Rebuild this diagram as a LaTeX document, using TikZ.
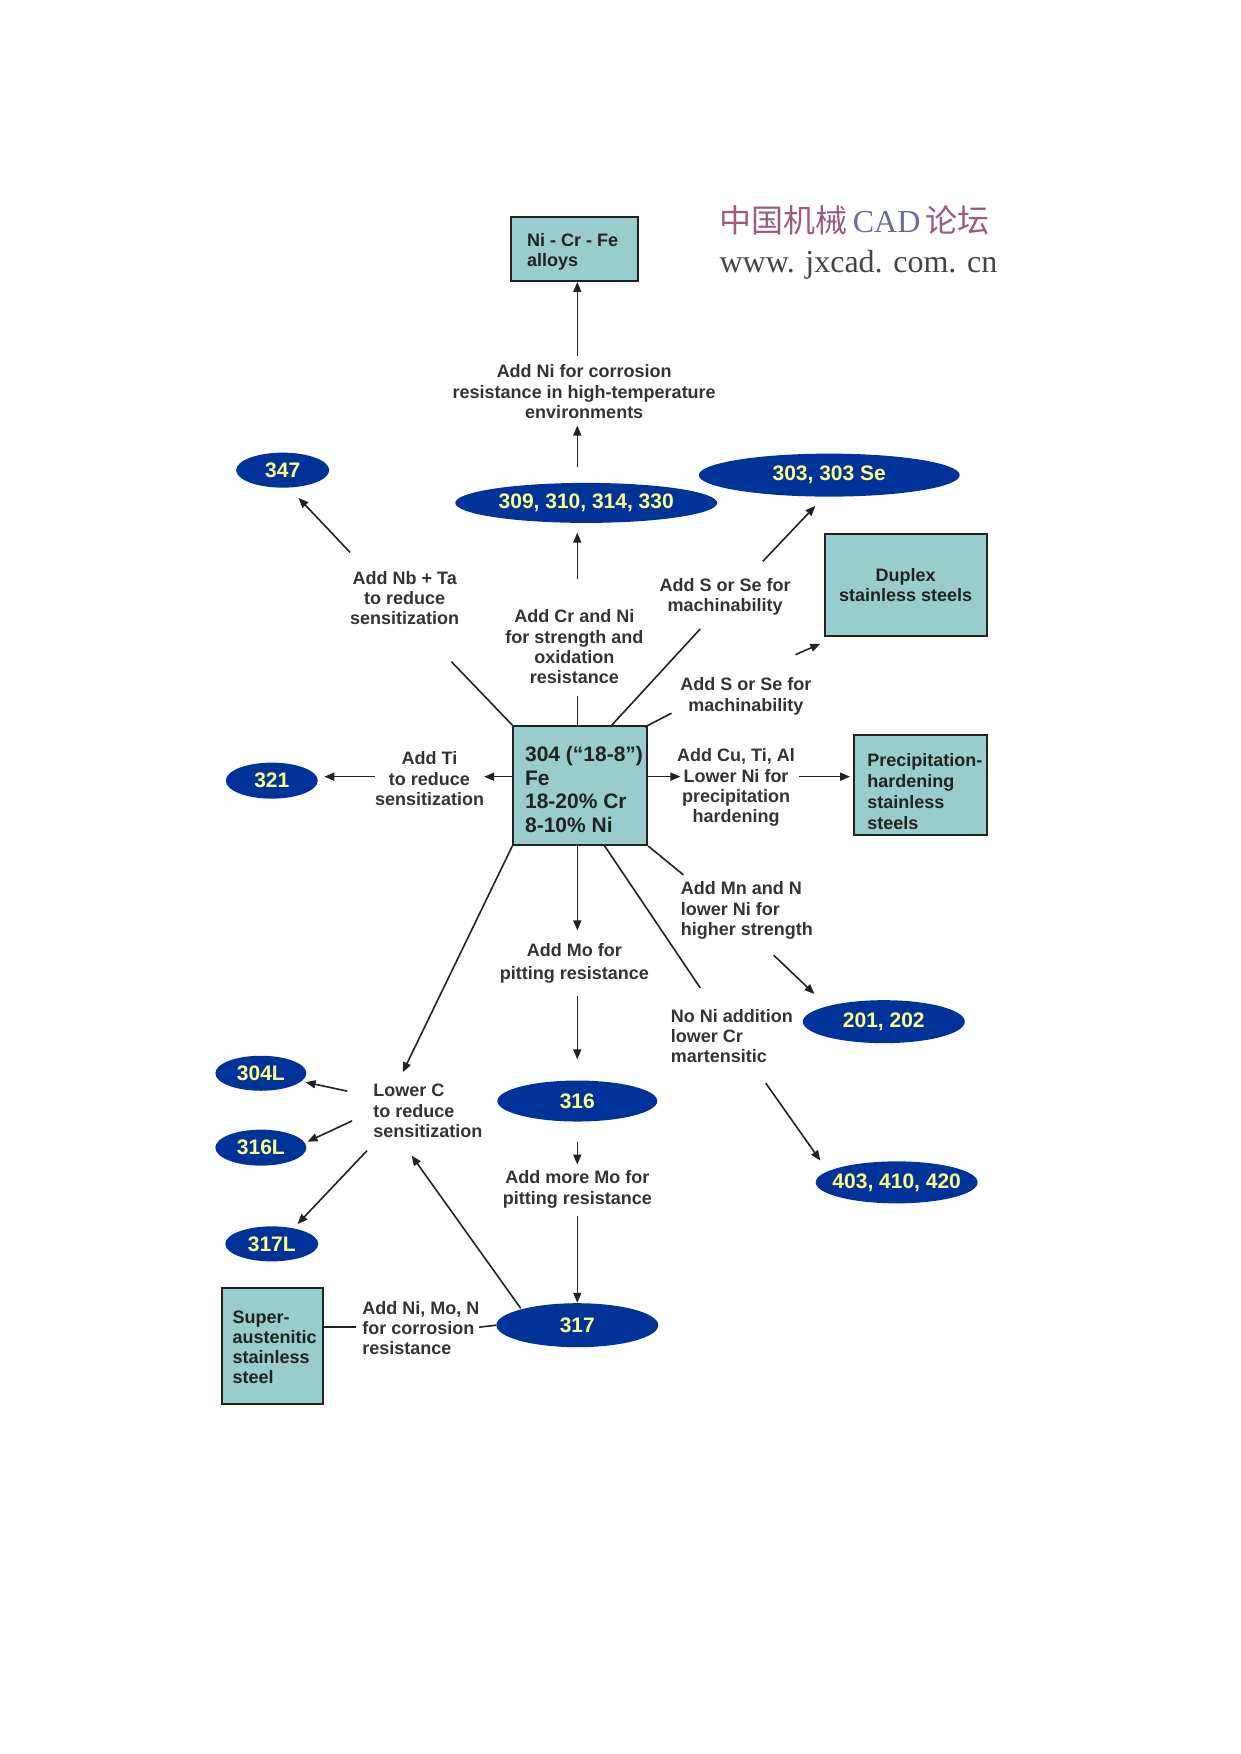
\documentclass[tikz,border=0pt]{standalone}
\usepackage{fontspec}
\setmainfont{Liberation Sans}
\newfontfamily\cjkfont{Noto Sans CJK SC}
\newfontfamily\wmserif{Liberation Serif}
\usetikzlibrary{arrows.meta,shapes.geometric}
\definecolor{boxfill}{HTML}{99CCCC}
\definecolor{ellfill}{HTML}{003399}
\definecolor{elltext}{HTML}{FFFF88}
\definecolor{lbl}{HTML}{333333}
\definecolor{edgec}{HTML}{222222}
\definecolor{wmred}{HTML}{9A5A82}
\definecolor{wmblue}{HTML}{6A6A9E}
\definecolor{wmgray}{HTML}{444444}
\newcommand\ellt[1]{\makebox[0pt][c]{#1}}
\begin{document}
\begin{tikzpicture}[x=0.496pt,y=-0.496pt,
  box/.style={draw=edgec, line width=1pt, fill=boxfill, rectangle, inner sep=0pt},
  btxt/.style={text=edgec, font=\bfseries\fontsize{9}{10.2}\selectfont, align=left, inner sep=0pt},
  ell/.style={ellipse, fill=ellfill, draw=none, text=elltext, font=\bfseries\fontsize{10.5}{12}\selectfont, inner sep=0pt},
  lab/.style={text=lbl, font=\bfseries\fontsize{9}{10.15}\selectfont, align=center, inner sep=0pt},
  labl/.style={lab, align=left, anchor=west},
  arr/.style={draw=edgec, line width=0.8pt, -{Triangle[length=5pt,width=4pt]}},
  ln/.style={draw=edgec, line width=0.8pt}]
\useasboundingbox (0,0) rectangle (1251,1768.3);

% watermark
\node[anchor=west, inner sep=0pt, font=\fontsize{16}{18}\selectfont] (wm1) at (725,222)
  {\textcolor{wmred}{\cjkfont 中国机械}\,\textcolor{wmblue}{\wmserif CAD}\,\textcolor{wmred}{\cjkfont 论坛}};
\node[anchor=west, inner sep=0pt, text=wmgray, font=\wmserif\fontsize{16}{18}\selectfont] (wm2) at (725,267)
  {www. jxcad. com. cn};

% boxes
\node[box, minimum width=63.5pt, minimum height=32pt] (niBox) at (579,251) {};
\node[btxt, anchor=west] (niT) at (531,254) {Ni - Cr - Fe\\alloys};

\node[box, minimum width=81pt, minimum height=51pt, align=center, text=edgec,
      font=\bfseries\fontsize{9}{10.2}\selectfont] (duplex) at (913,590) {Duplex\\stainless steels};

\node[box, minimum width=67pt, minimum height=59.5pt] (c304) at (585,792) {};
\node[btxt, anchor=west, font=\bfseries\fontsize{10.5}{11.85}\selectfont] (c304t) at (529,796)
  {304 (“18-8”)\\Fe\\18-20\% Cr\\8-10\% Ni};

\node[box, minimum width=66.5pt, minimum height=50pt] (precip) at (927.5,791) {};
\node[btxt, anchor=west, font=\bfseries\fontsize{9}{10.35}\selectfont] (precipT) at (874,798)
  {Precipitation-\\hardening\\stainless\\steels};

\node[box, minimum width=50.5pt, minimum height=58pt] (super) at (274.5,1357) {};
\node[btxt, anchor=west, font=\bfseries\fontsize{9}{10}\selectfont] (superT) at (234,1358)
  {Super-\\austenitic\\stainless\\steel};

% ellipses
\node[ell, minimum width=131pt, minimum height=20pt] (e309) at (591,507) {\ellt{309, 310, 314, 330}};
\node[ell, minimum width=46.5pt, minimum height=17.5pt] (e347) at (285,474) {\ellt{347}};
\node[ell, minimum width=130.5pt, minimum height=21.5pt] (e303) at (836,479) {\ellt{303, 303 Se}};
\node[ell, minimum width=46pt, minimum height=18pt] (e321) at (274,787) {\ellt{321}};
\node[ell, minimum width=81pt, minimum height=21.5pt] (e201) at (891,1030) {\ellt{201, 202}};
\node[ell, minimum width=81pt, minimum height=21pt] (e403) at (904,1192) {\ellt{403, 410, 420}};
\node[ell, minimum width=80pt, minimum height=20.5pt] (e316) at (582,1110) {\ellt{316}};
\node[ell, minimum width=81pt, minimum height=22pt] (e317) at (582,1336) {\ellt{317}};
\node[ell, minimum width=45.5pt, minimum height=17.5pt] (e304L) at (263,1082) {\ellt{304L}};
\node[ell, minimum width=45.5pt, minimum height=18pt] (e316L) at (263,1157) {\ellt{316L}};
\node[ell, minimum width=46.5pt, minimum height=17.5pt] (e317L) at (274,1254) {\ellt{317L}};

% labels
\node[lab] (lNi) at (589,395) {Add Ni for corrosion\\resistance in high-temperature\\environments};
\node[lab] (lNb) at (408,603) {Add Nb + Ta\\to reduce\\sensitization};
\node[lab] (lCr) at (579,652) {Add Cr and Ni\\for strength and\\oxidation\\resistance};
\node[lab] (lS1) at (731,602) {Add S or Se for\\machinability};
\node[lab] (lS2) at (752,702) {Add S or Se for\\machinability};
\node[lab] (lTi) at (433,785) {Add Ti\\to reduce\\sensitization};
\node[lab] (lCu) at (742,794) {Add Cu, Ti, Al\\Lower Ni for\\precipitation\\hardening};
\node[labl] (lMn) at (686,918) {Add Mn and N\\lower Ni for\\higher strength};
\node[labl] (lNoNi) at (676,1044.5) {No Ni addition\\lower Cr\\martensitic};
\node[lab, font=\bfseries\fontsize{9}{11.5}\selectfont] (lMo) at (579,971) {Add Mo for\\pitting resistance};
\node[lab] (lMo2) at (582,1199) {Add more Mo for\\pitting resistance};
\node[labl] (lC) at (376,1120) {Lower C\\to reduce\\sensitization};
\node[labl] (lNiMoN) at (365,1339) {Add Ni, Mo, N\\for corrosion\\resistance};

% connector end points
\coordinate (p1) at (582,359);
\coordinate (p2a) at (582,471); \coordinate (p2b) at (582,429);
\coordinate (p3a) at (582,584); \coordinate (p3b) at (582,537);
\coordinate (p4) at (582,702);
\coordinate (p5a) at (455,667);
\coordinate (p5b) at (353,557); \coordinate (p5c) at (301,502);
\coordinate (p6o) at (615,733); \coordinate (p6a) at (706,634);
\coordinate (p6b) at (769,566); \coordinate (p6c) at (822,510);
\coordinate (p7o) at (650,733); \coordinate (p7a) at (677,719);
\coordinate (p7b) at (802,660); \coordinate (p7c) at (827,649);
\coordinate (p8a) at (488,783);
\coordinate (p8b) at (378,783); \coordinate (p8c) at (327,783);
\coordinate (p9a) at (686,783);
\coordinate (p9b) at (805,783); \coordinate (p9c) at (857,783);
\coordinate (p10a) at (689,882);
\coordinate (p10b) at (780,963); \coordinate (p10c) at (821,1002);
\coordinate (p11o) at (609,852); \coordinate (p11a) at (706,996);
\coordinate (p11b) at (772,1092); \coordinate (p11c) at (827,1170);
\coordinate (p12a) at (582,938);
\coordinate (p12b) at (582,1004); \coordinate (p12c) at (582,1068);
\coordinate (p12d) at (582,1151); \coordinate (p12e) at (582,1174);
\coordinate (p12f) at (582,1226);
\coordinate (p13a) at (406,1081);
\coordinate (p14a) at (350,1100); \coordinate (p14b) at (308,1091);
\coordinate (p14c) at (355,1130); \coordinate (p14d) at (310,1151);
\coordinate (p14e) at (370,1160); \coordinate (p14f) at (300,1234);
\coordinate (p15a) at (525,1319); \coordinate (p15b) at (415,1165);
\coordinate (p16a) at (359,1338); \coordinate (p16b) at (483,1338);

% connectors
\draw[arr] (p1) -- (p1 |- niBox.south);
\draw[arr] (p2a) -- (p2b);
\draw[arr] (p3a) -- (p3b);
\draw[ln] (p4 |- c304.north) -- (p4);
\draw[ln] (c304.north west) -- (p5a);
\draw[arr] (p5b) -- (p5c);
\draw[ln] (p6o) -- (p6a);
\draw[arr] (p6b) -- (p6c);
\draw[ln] (p7o) -- (p7a);
\draw[arr] (p7b) -- (p7c);
\draw[arr] (c304.west |- p8a) -- (p8a);
\draw[arr] (p8b) -- (p8c);
\draw[arr] (c304.east |- p9a) -- (p9a);
\draw[arr] (p9b) -- (p9c);
\draw[ln] (c304.south east) -- (p10a);
\draw[arr] (p10b) -- (p10c);
\draw[ln] (p11o) -- (p11a);
\draw[arr] (p11b) -- (p11c);
\draw[arr] (p12a |- c304.south) -- (p12a);
\draw[arr] (p12b) -- (p12c);
\draw[arr] (p12d) -- (p12e);
\draw[arr] (p12f) -- (p12f |- e317.north);
\draw[arr] (c304.south west) -- (p13a);
\draw[arr] (p14a) -- (p14b);
\draw[arr] (p14c) -- (p14d);
\draw[arr] (p14e) -- (p14f);
\draw[arr] (p15a) -- (p15b);
\draw[ln] (super.east |- p16a) -- (p16a);
\draw[ln] (p16b) -- (e317.west);
\end{tikzpicture}
\end{document}
